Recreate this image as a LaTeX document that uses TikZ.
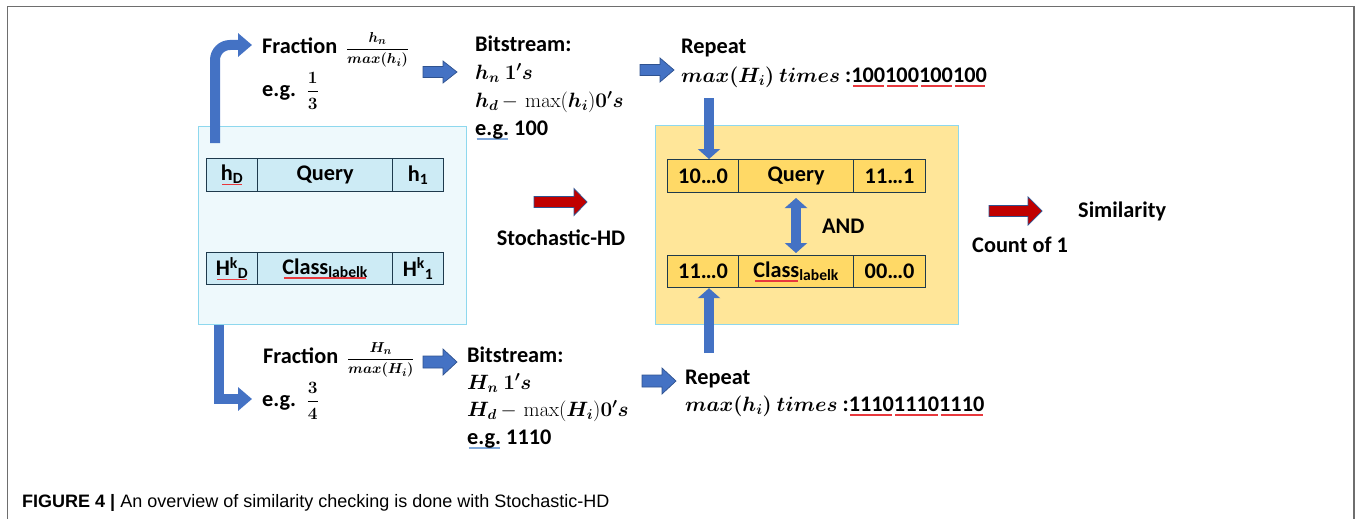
\documentclass[tikz,border=0pt]{standalone}
\usepackage{amsmath,bm}
\usepackage[no-math]{fontspec}
\setmainfont{Carlito}
\newfontfamily\capfont{Liberation Sans}
\usetikzlibrary{arrows.meta}
\definecolor{ablue}{HTML}{4472C4}
\definecolor{aedge}{HTML}{2F528F}
\definecolor{ared}{HTML}{C00000}
\definecolor{lbg}{HTML}{EEF9FC}
\definecolor{lcell}{HTML}{CDEBF5}
\definecolor{bedge}{HTML}{8ED8EE}
\definecolor{ybg}{HTML}{FFE699}
\definecolor{ycell}{HTML}{FFD966}
\definecolor{cedge}{HTML}{1E3A4C}
\definecolor{framegray}{HTML}{6E6E6E}
\definecolor{spellred}{HTML}{E8383D}
\definecolor{spellblue}{HTML}{7FA7D9}
\newcommand\tsz{\fontsize{22.3}{26}\selectfont}
\newcommand\msz{\fontsize{22}{26}\selectfont}
\newcommand\squl[2]{\setbox0\hbox{#2}\rlap{\hspace{1.5pt}\color{#1}\rule[-4.5pt]{\dimexpr\wd0-3pt\relax}{1.3pt}}\box0\relax}
\newcommand\bmm[1]{{\boldmath$#1$}}
\tikzset{
  txt/.style={font=\tsz\bfseries, inner sep=0, anchor=base west},
  mth/.style={font=\msz},
  lboxst/.style={draw=bedge, fill=lbg, line width=1.2, anchor=north west, inner sep=0},
  yboxst/.style={draw=bedge, fill=ybg, line width=1.2, anchor=north west, inner sep=0},
  cell/.style={draw=cedge, line width=1.2, minimum height=33, inner sep=0, anchor=north west, font=\tsz\bfseries},
  lcellst/.style={cell, fill=lcell},
  ycellst/.style={cell, fill=ycell},
  bluearrow/.style={fill=ablue, draw=aedge, line width=0.7},
  redarrow/.style={fill=ared, draw=aedge, line width=0.7},
  bent/.style={draw=ablue, line width=10, -{Triangle[width=23pt,length=14pt]}},
  vert/.style={draw=ablue, line width=10, -{Triangle[width=22pt,length=10pt]}},
  dvert/.style={draw=ablue, line width=10, {Triangle[width=22pt,length=10pt]}-{Triangle[width=22pt,length=10pt]}},
  pics/barrow/.style n args={4}{code={
    \path[pic actions] (0,-#2/2) -- (#1-#4,-#2/2) -- (#1-#4,-#3/2) -- (#1,0)
      -- (#1-#4,#3/2) -- (#1-#4,#2/2) -- (0,#2/2) -- cycle;}}
}
\begin{document}
\begin{tikzpicture}[x=1pt,y=-1pt]
\useasboundingbox (0,0) rectangle (1357,519);
% frame
\draw[framegray, line width=1.8] (7.5,519) -- (7.5,6.5) -- (1354,6.5) -- (1354,519);

% left box
\node[lboxst, minimum width=268, minimum height=198] (lbox) at (198,126) {};
\node[lcellst, minimum width=51] (hD) at (206,158) {\squl{spellred}{h\textsubscript{D}}};
\node[lcellst, minimum width=135] (q1) at (257,158) {Query};
\node[lcellst, minimum width=51] (h1) at (392,158) {h\textsubscript{1}};
\node[lcellst, minimum width=51, minimum height=32] (HD) at (206,252) {\squl{spellred}{H\textsuperscript{k}\textsubscript{D}}};
\node[lcellst, minimum width=135, minimum height=32] (c1) at (257,252) {\squl{spellred}{Class\textsubscript{labelk}}};
\node[lcellst, minimum width=51, minimum height=32] (H1) at (392,252) {H\textsuperscript{k}\textsubscript{1}};

% right box
\node[yboxst, minimum width=303, minimum height=199] (rbox) at (655,125) {};
\node[ycellst, minimum width=71] (r10) at (667,159) {10\dots0};
\node[ycellst, minimum width=115] (q2) at (738,159) {Query};
\node[ycellst, minimum width=72] (r11) at (853,159) {11\dots1};
\node[ycellst, minimum width=71, minimum height=32] (s11) at (667,255) {11\dots0};
\node[ycellst, minimum width=115, minimum height=32] (c2) at (738,255) {\squl{spellred}{Class}\textsubscript{labelk}};
\node[ycellst, minimum width=72, minimum height=32] (s00) at (853,255) {00\dots0};

% top texts
\node[txt] (frac1) at (262,53) {Fraction\, {\fontsize{15.2}{18}\selectfont\boldmath$\dfrac{h_n}{max(h_i)}$}};
\node[txt] (eg1) at (262,96) {e.g.\, {\fontsize{17}{19}\selectfont\boldmath$\dfrac{1}{3}$}};
\node[txt] (bs1a) at (475,52) {Bitstream:};
\node[txt,mth] (bs1b) at (475,79) {\bmm{h_n\ 1's}};
\node[txt,mth] (bs1c) at (475,107) {\bmm{h_d}\,$-\,\max($\bmm{h_i}$)$\bmm{0's}};
\node[txt] (bs1d) at (475,135) {\squl{spellblue}{e.g.} 100};
\node[txt] (rp1a) at (681,54) {Repeat};
\node[txt,mth] (rp1b) at (681,82) {\bmm{max(H_i)\ times}\ {\tsz\bfseries:\squl{spellred}{100}\squl{spellred}{100}\squl{spellred}{100}\squl{spellred}{100}}};

% bottom texts
\node[txt] (frac2) at (263,363) {Fraction\, {\fontsize{15.2}{18}\selectfont\boldmath$\dfrac{H_n}{max(H_i)}$}};
\node[txt] (eg2) at (262,406) {e.g.\, {\fontsize{17}{19}\selectfont\boldmath$\dfrac{3}{4}$}};
\node[txt] (bs2a) at (467,362) {Bitstream:};
\node[txt,mth] (bs2b) at (467,389) {\bmm{H_n\ 1's}};
\node[txt,mth] (bs2c) at (467,416) {\bmm{H_d}\,$-\,\max($\bmm{H_i}$)$\bmm{0's}};
\node[txt] (bs2d) at (467,444) {\squl{spellblue}{e.g.} 1110};
\node[txt] (rp2a) at (685,384) {Repeat};
\node[txt,mth] (rp2b) at (685,411) {\bmm{max(h_i)\ times}\ {\tsz\bfseries:\squl{spellred}{1110}\squl{spellred}{1110}\squl{spellred}{1110}}};

% middle texts
\node[txt, anchor=base] (stoch) at (561,245) {Stochastic-HD};
\node[txt] (andl) at (822,233) {AND};
\node[txt] (count) at (972,252) {Count of 1};
\node[txt] (sim) at (1078,217) {Similarity};

% block arrows
\pic[bluearrow] (ba1) at (423,72) {barrow={34}{11}{22}{14}};
\pic[bluearrow] (ba2) at (640,70) {barrow={34}{11}{24}{14}};
\pic[bluearrow] (ba3) at (423,362) {barrow={34}{12}{26}{14}};
\pic[bluearrow] (ba4) at (642,381) {barrow={34}{12}{26}{14}};
\pic[redarrow] (ra1) at (534,202) {barrow={53}{11}{27}{13}};
\pic[redarrow] (ra2) at (989,211) {barrow={53}{11}{28}{14}};

% connectors
\coordinate (t0) at (215,143);
\coordinate (t1) at (252,45);
\draw[bent, rounded corners=15] (t0) |- (t1);
\coordinate (b0) at (219,325);
\coordinate (b1) at (252,399);
\draw[bent] (b0) |- (b1);
\coordinate (d0) at (709,98);
\draw[vert] (d0) -- (d0 |- r10.north);
\coordinate (u0) at (709,353);
\draw[vert] (u0) -- (u0 |- s11.south);
\coordinate (m0) at (796,198);
\coordinate (m1) at (796,253);
\draw[dvert] (m0) -- (m1);

% caption
\node[anchor=base west, inner sep=0, font=\capfont\fontsize{18}{22}\selectfont] (cap) at (22,507) {\textbf{FIGURE 4 |} An overview of similarity checking is done with Stochastic-HD};
\end{tikzpicture}
\end{document}
